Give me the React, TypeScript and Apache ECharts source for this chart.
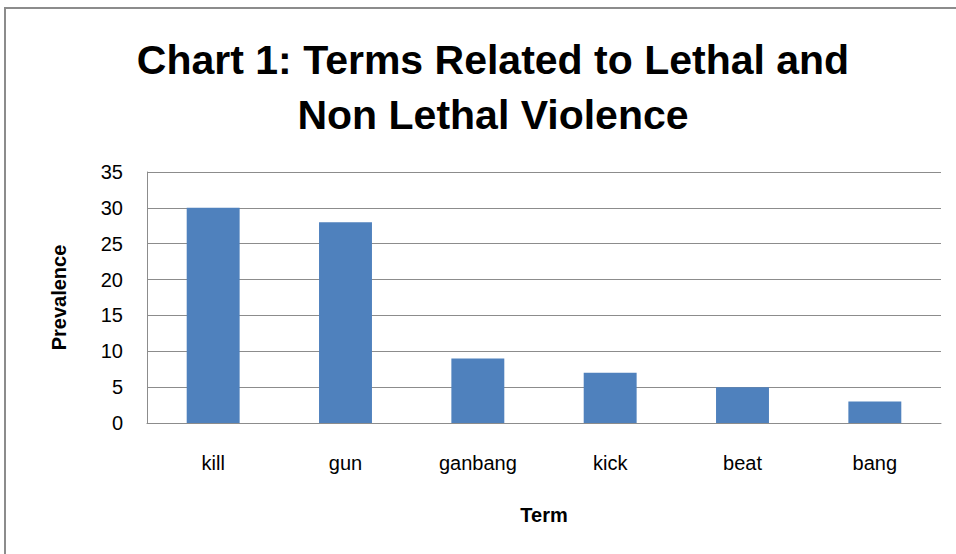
import React, { useEffect, useRef } from "react";
import * as echarts from "echarts";

const categories = ["kill", "gun", "ganbang", "kick", "beat", "bang"];
const prevalence = [30, 28, 9, 7, 5, 3];
const titleLines = ["Chart 1: Terms Related to Lethal and", "Non Lethal Violence"];
const FONT = "'Liberation Sans', sans-serif";

export default function App() {
  const ref = useRef<HTMLDivElement>(null);
  useEffect(() => {
    if (!ref.current) return;
    const chart = echarts.init(ref.current, null, { renderer: "svg" });
    chart.setOption({
      animation: false,
      backgroundColor: "#ffffff",
      title: {
        text: titleLines.join("\n"),
        left: 488,
        top: 27,
        textAlign: "center",
        textStyle: {
          fontFamily: FONT,
          fontWeight: "bold",
          fontSize: 41,
          lineHeight: 55,
          color: "#000",
        },
      },
      graphic: [
        {
          type: "rect",
          shape: { x: 5, y: 8, width: 1000, height: 600 },
          style: { fill: "none", stroke: "#8c8c8c", lineWidth: 2 },
          z: 100,
        },
      ],
      grid: { left: 147, right: 15, top: 172, bottom: 131 },
      xAxis: {
        type: "category",
        data: categories,
        name: "Term",
        nameLocation: "middle",
        nameGap: 82,
        nameTextStyle: { fontFamily: FONT, fontWeight: "bold", fontSize: 20, color: "#000" },
        axisLine: { lineStyle: { color: "#8c8c8c", width: 1 } },
        axisTick: { show: false },
        axisLabel: { fontFamily: FONT, fontSize: 20, color: "#000", margin: 30 },
      },
      yAxis: {
        type: "value",
        min: 0,
        max: 35,
        interval: 5,
        name: "Prevalence",
        nameLocation: "middle",
        nameGap: 78,
        nameRotate: 90,
        nameTextStyle: { fontFamily: FONT, fontWeight: "bold", fontSize: 20, color: "#000" },
        axisLine: { show: true, lineStyle: { color: "#8c8c8c", width: 1 } },
        axisTick: { show: false },
        axisLabel: { fontFamily: FONT, fontSize: 20, color: "#000", margin: 24 },
        splitLine: { lineStyle: { color: "#8c8c8c", width: 1 } },
      },
      series: [
        {
          type: "bar",
          data: prevalence,
          barWidth: "40%",
          itemStyle: { color: "#4f81bd" },
        },
      ],
    });
    return () => chart.dispose();
  }, []);
  return (
    <div
      ref={ref}
      style={{ position: "fixed", left: 0, top: 0, width: 956, height: 554 }}
    />
  );
}
